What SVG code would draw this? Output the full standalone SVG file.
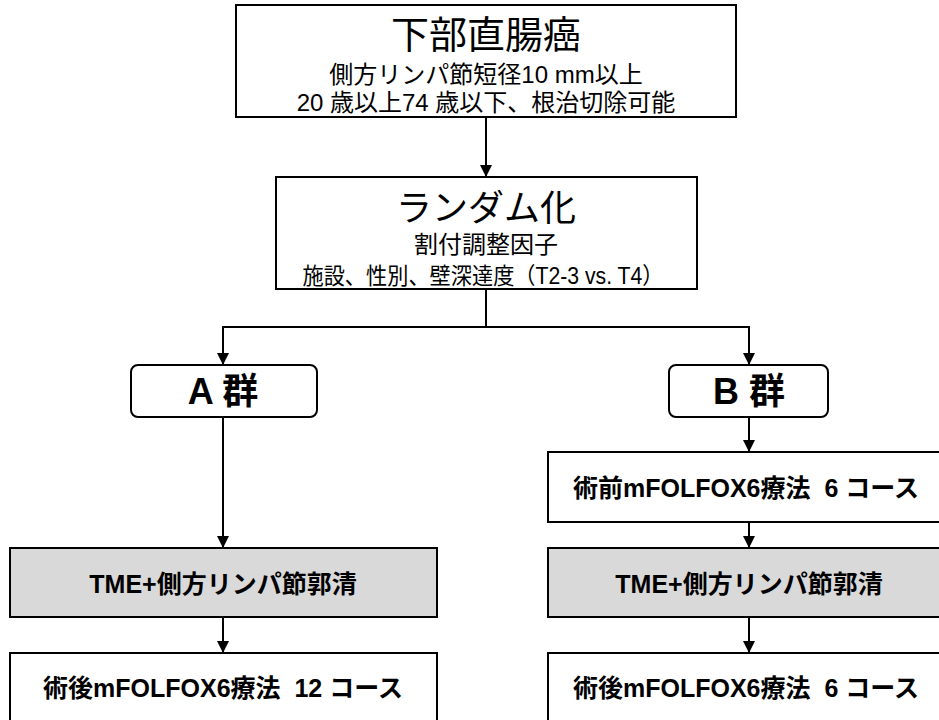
<svg xmlns="http://www.w3.org/2000/svg" width="939" height="720" viewBox="0 0 939 720">
<style>
text{font-family:"Liberation Sans","Noto Sans CJK JP",sans-serif;fill:#000;text-anchor:middle}
.box{fill:#fff;stroke:#000;stroke-width:2}
.gray{fill:#d9d9d9;stroke:#000;stroke-width:2}
.con{fill:none;stroke:#000;stroke-width:2}
.b{font-weight:bold}
</style>
<defs>
<marker id="arr" markerUnits="userSpaceOnUse" markerWidth="12" markerHeight="12" refX="12" refY="6" orient="auto">
<path d="M0,0 L12,6 L0,12 z" fill="#000"/>
</marker>
</defs>
<rect width="939" height="720" fill="#fff"/>
<g id="connectors">
<path class="con" d="M486,117 V177" marker-end="url(#arr)"/>
<path class="con" d="M486,289 V327"/>
<path class="con" d="M486,327 H223 V365" marker-end="url(#arr)"/>
<path class="con" d="M486,327 H749 V365" marker-end="url(#arr)"/>
<path class="con" d="M223,417 V548" marker-end="url(#arr)"/>
<path class="con" d="M223,617 V653" marker-end="url(#arr)"/>
<path class="con" d="M749,417 V452" marker-end="url(#arr)"/>
<path class="con" d="M749,522 V548" marker-end="url(#arr)"/>
<path class="con" d="M749,617 V653" marker-end="url(#arr)"/>
</g>
<g id="node-target">
<rect class="box" x="236" y="5" width="500" height="112"/>
<text x="486" y="48" font-size="38">下部直腸癌</text>
<text x="486" y="83" font-size="24">側方リンパ節短径10 mm以上</text>
<text x="486" y="111" font-size="24">20 歳以上74 歳以下、根治切除可能</text>
</g>
<g id="node-random">
<rect class="box" x="276" y="177" width="421" height="112"/>
<text x="486" y="221" font-size="36">ランダム化</text>
<text x="486" y="253" font-size="24">割付調整因子</text>
<text x="483" y="284" font-size="23" textLength="361" lengthAdjust="spacingAndGlyphs">施設、性別、壁深達度（T2-3 vs. T4）</text>
</g>
<g id="node-groupA">
<rect class="box" x="131" y="365" width="186" height="52" rx="7"/>
<text class="b" x="223" y="404" font-size="36">A 群</text>
</g>
<g id="node-groupB">
<rect class="box" x="669" y="365" width="159" height="52" rx="7"/>
<text class="b" x="749" y="404" font-size="36">B 群</text>
</g>
<g id="node-A-surgery">
<rect class="gray" x="10" y="548" width="427" height="69"/>
<text class="b" x="223" y="593" font-size="25">TME+側方リンパ節郭清</text>
</g>
<g id="node-A-post">
<rect class="box" x="10" y="653" width="427" height="80"/>
<text class="b" x="223" y="697" font-size="25" xml:space="preserve">術後mFOLFOX6療法  12 コース</text>
</g>
<g id="node-B-pre">
<rect class="box" x="548" y="452" width="400" height="70"/>
<text class="b" x="746" y="497" font-size="25" xml:space="preserve">術前mFOLFOX6療法  6 コース</text>
</g>
<g id="node-B-surgery">
<rect class="gray" x="548" y="548" width="400" height="69"/>
<text class="b" x="749" y="593" font-size="25">TME+側方リンパ節郭清</text>
</g>
<g id="node-B-post">
<rect class="box" x="548" y="653" width="400" height="80"/>
<text class="b" x="746" y="697" font-size="25" xml:space="preserve">術後mFOLFOX6療法  6 コース</text>
</g>
</svg>
